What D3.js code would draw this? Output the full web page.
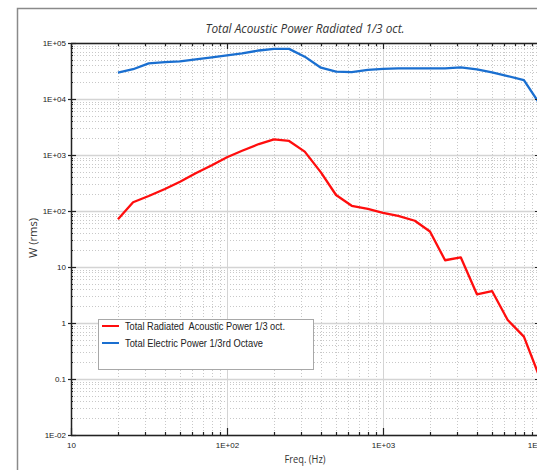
<!DOCTYPE html>
<html>
<head>
<meta charset="utf-8">
<script src="https://cdn.jsdelivr.net/npm/d3@7"></script>
<style>
  body { margin: 0; background: #fff; }
  svg { display: block; font-family: "Liberation Sans", Arial, sans-serif; }
</style>
</head>
<body>
<div id="chart"></div>
<script>
// 1/3 octave band centres (Hz)
const freqs = [20, 25, 31.5, 40, 50, 63, 80, 100, 125, 160, 200, 250, 315, 400, 500,
  630, 800, 1000, 1250, 1600, 2000, 2500, 3150, 4000, 5000, 6300, 8000, 10000];
const acoustic = [71, 143, 185, 247, 333, 471, 655, 910, 1190, 1570, 1900, 1780, 1150, 490, 193,
  124, 109, 93, 82, 67, 43, 13.2, 14.9, 3.25, 3.72, 1.13, 0.57, 0.115];
const electric = [29500, 34000, 43400, 45700, 46800, 51200, 55600, 60300, 65000, 73500, 78500, 78500, 57000, 36200, 30700,
  30300, 33000, 34400, 35300, 35300, 35300, 35300, 36800, 33900, 30000, 25700, 21800, 8500];

const yTicks = [0.01, 0.1, 1, 10, 100, 1000, 10000, 100000];
const yTickLabels = ["1E-02", "0.1", "1", "10", "1E+02", "1E+03", "1E+04", "1E+05"];
const xTicks = [10, 100, 1000, 10000];
const xTickLabels = ["10", "1E+02", "1E+03", "1E+04"];

const seriesNames = ["Total Radiated  Acoustic Power 1/3 oct.", "Total Electric Power 1/3rd Octave"];
const seriesColors = ["#ff0d0d", "#1a6fd0"];

function init() {
  const W = 537, H = 470;
  const left = 71, right = 539, top = 43, bottom = 435;

  const x = d3.scaleLog().domain([10, 10000]).range([left, right]);
  const y = d3.scaleLog().domain([0.01, 100000]).range([bottom, top]);

  // minor values 2..9 per decade
  const xMinor = [], yMinor = [];
  for (let k = 1; k < 4; k++) for (let m = 2; m < 10; m++) xMinor.push(m * Math.pow(10, k));
  for (let k = -2; k < 5; k++) for (let m = 2; m < 10; m++) yMinor.push(+(m * Math.pow(10, k)).toPrecision(3));

  const svg = d3.select("#chart").append("svg")
    .attr("width", W).attr("height", H);

  // outer frame
  svg.append("rect")
    .attr("x", 17.5).attr("y", 8.5).attr("width", 560).attr("height", 500)
    .attr("fill", "#fff").attr("stroke", "#8a8a8a").attr("stroke-width", 1.5);

  svg.append("defs").append("clipPath").attr("id", "plot")
    .append("rect").attr("x", left).attr("y", top)
    .attr("width", right - left).attr("height", bottom - top);

  const grid = svg.append("g");
  // minor grid (dotted)
  grid.selectAll(".xmin").data(xMinor).enter().append("line")
    .attr("x1", d => Math.round(x(d)) + 0.5).attr("x2", d => Math.round(x(d)) + 0.5)
    .attr("y1", top).attr("y2", bottom)
    .attr("stroke", "#c8c8c8").attr("stroke-dasharray", "1,2");
  grid.selectAll(".ymin").data(yMinor).enter().append("line")
    .attr("y1", d => Math.round(y(d)) + 0.5).attr("y2", d => Math.round(y(d)) + 0.5)
    .attr("x1", left).attr("x2", right)
    .attr("stroke", "#c8c8c8").attr("stroke-dasharray", "1,2");
  // major grid (solid)
  grid.selectAll(".xmaj").data(xTicks).enter().append("line")
    .attr("x1", d => Math.round(x(d)) + 0.5).attr("x2", d => Math.round(x(d)) + 0.5)
    .attr("y1", top).attr("y2", bottom)
    .attr("stroke", "#d4d4d4");
  grid.selectAll(".ymaj").data(yTicks).enter().append("line")
    .attr("y1", d => Math.round(y(d)) + 0.5).attr("y2", d => Math.round(y(d)) + 0.5)
    .attr("x1", left).attr("x2", right)
    .attr("stroke", "#d4d4d4").attr("stroke-width", 1.5);

  // series
  const line = d3.line().x(d => x(d[0])).y(d => y(d[1]));
  const plot = svg.append("g").attr("clip-path", "url(#plot)");
  [acoustic, electric].forEach((vals, i) => {
    plot.append("path")
      .datum(freqs.map((f, j) => [f, vals[j]]))
      .attr("d", line)
      .attr("fill", "none")
      .attr("stroke", seriesColors[i])
      .attr("stroke-width", 2.3)
      .attr("stroke-linejoin", "round");
  });

  // axes frame
  const ax = svg.append("g").attr("stroke", "#222");
  ax.append("line").attr("x1", left).attr("x2", right).attr("y1", top + 0.5).attr("y2", top + 0.5).attr("stroke-width", 1.5);
  ax.append("line").attr("x1", left).attr("x2", right).attr("y1", bottom + 0.5).attr("y2", bottom + 0.5).attr("stroke-width", 1.5);
  ax.append("line").attr("x1", left + 0.5).attr("x2", left + 0.5).attr("y1", top).attr("y2", bottom + 1).attr("stroke-width", 1.5);
  ax.append("line").attr("x1", right - 0.5).attr("x2", right - 0.5).attr("y1", top).attr("y2", bottom + 1).attr("stroke-width", 1.5);

  // tick marks
  function vTicks(vals, y0, len) {
    ax.selectAll(null).data(vals).enter().append("line")
      .attr("x1", d => Math.round(x(d)) + 0.5).attr("x2", d => Math.round(x(d)) + 0.5)
      .attr("y1", y0).attr("y2", y0 + len).attr("stroke-width", 1.2);
  }
  function hTicks(vals, x0, len) {
    ax.selectAll(null).data(vals).enter().append("line")
      .attr("y1", d => Math.round(y(d)) + 0.5).attr("y2", d => Math.round(y(d)) + 0.5)
      .attr("x1", x0).attr("x2", x0 + len).attr("stroke-width", 1.2);
  }
  vTicks(xTicks, bottom, -7); vTicks(xMinor, bottom, -3);
  vTicks(xTicks, top, 6); vTicks(xMinor, top, 3);
  hTicks(yTicks, left - 3, 8); hTicks(yMinor, left, 2);
  hTicks(yTicks, right, -4); hTicks(yMinor, right, -2);

  // axis labels via d3 axes (no lines)
  const yAxis = svg.append("g").attr("transform", `translate(${left},0)`)
    .call(d3.axisLeft(y).tickValues(yTicks).tickSize(0).tickPadding(5)
      .tickFormat((d, i) => yTickLabels[i]));
  const xAxis = svg.append("g").attr("transform", `translate(0,${bottom})`)
    .call(d3.axisBottom(x).tickValues(xTicks).tickSize(0).tickPadding(7)
      .tickFormat((d, i) => xTickLabels[i]));
  [yAxis, xAxis].forEach(g => {
    g.select(".domain").remove();
    g.selectAll("text").attr("font-family", "'Liberation Sans', Arial, sans-serif")
      .attr("font-size", 8).attr("fill", "#222");
  });

  // title and axis titles
  svg.append("text")
    .attr("x", 305).attr("y", 33).attr("text-anchor", "middle")
    .attr("font-family", "'Open Sans', 'DejaVu Sans', sans-serif")
    .attr("font-style", "italic").attr("font-size", 12.5).attr("fill", "#333")
    .attr("textLength", 199).attr("lengthAdjust", "spacingAndGlyphs")
    .text("Total Acoustic Power Radiated 1/3 oct.");

  svg.append("text")
    .attr("x", 305).attr("y", 463).attr("text-anchor", "middle")
    .attr("font-family", "'Open Sans', 'DejaVu Sans', sans-serif")
    .attr("font-size", 10).attr("fill", "#333")
    .attr("textLength", 41).attr("lengthAdjust", "spacingAndGlyphs")
    .text("Freq. (Hz)");

  svg.append("text")
    .attr("transform", "translate(37,238) rotate(-90)").attr("text-anchor", "middle")
    .attr("font-family", "'Open Sans', 'DejaVu Sans', sans-serif")
    .attr("font-size", 10).attr("fill", "#333")
    .attr("textLength", 40).attr("lengthAdjust", "spacingAndGlyphs")
    .text("W (rms)");

  // legend
  const lg = svg.append("g");
  lg.append("rect").attr("x", 98.5).attr("y", 319.5).attr("width", 215).attr("height", 50)
    .attr("fill", "#fff").attr("stroke", "#a8a8a8");
  const textLens = [160, 138];
  seriesNames.forEach((name, i) => {
    const yy = 326 + i * 17;
    lg.append("line").attr("x1", 102).attr("x2", 119).attr("y1", yy).attr("y2", yy)
      .attr("stroke", seriesColors[i]).attr("stroke-width", 2);
    lg.append("text").attr("x", 125).attr("y", yy + 4)
      .attr("font-size", 11).attr("fill", "#222")
      .attr("xml:space", "preserve").style("white-space", "pre")
      .attr("textLength", textLens[i]).attr("lengthAdjust", "spacingAndGlyphs")
      .text(name);
  });
}

window.onload = init;
</script>
</body>
</html>
